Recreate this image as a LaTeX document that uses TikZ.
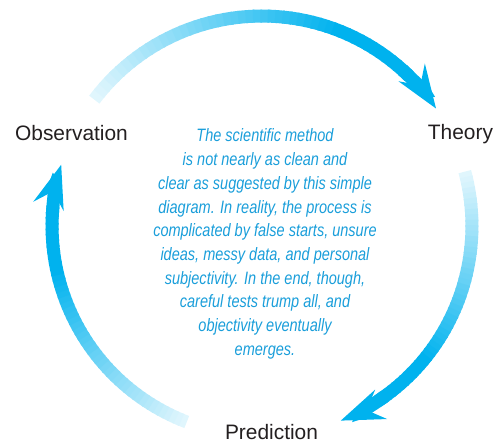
\documentclass[tikz,border=0pt]{standalone}
\usepackage{fontspec}
\setmainfont{Liberation Sans}
\newfontfamily\notefont{Liberation Sans}[FakeStretch=0.81]
\usetikzlibrary{arrows.meta,calc,positioning}
\definecolor{arccyan}{RGB}{0,178,238}
\definecolor{notecyan}{RGB}{26,158,218}
\definecolor{labelgray}{RGB}{35,31,32}
\tikzset{
        steplabel/.style = {text=labelgray, font=\fontsize{11.9}{14}\selectfont,
            inner sep=0pt, anchor=base},
        note/.style = {text=notecyan, font=\notefont\itshape\fontsize{10.2}{13.5}\selectfont,
            align=center, inner sep=0pt},
        arcbody/.style = {line width=0.26cm, line cap=butt},
        arctip/.style = {-{Stealth[length=0.86cm,width=0.62cm,inset=0.3cm]}},
    }
\newcommand{\cycrad}{4.2cm}
% #1 = light end, #2 = arrow tip (clockwise)
\newcommand{\cyclearc}[2]{%
    \pgfmathsetmacro{\bodyspan}{#1-#2-12}
    \foreach \k in {0,...,47}{
        \pgfmathsetmacro{\angfrom}{#1-\bodyspan*\k/48}
        \pgfmathsetmacro{\angto}{#1-\bodyspan*(\k+1)/48-0.5}
        \pgfmathtruncatemacro{\tone}{min(100,12+88*\k/36)}
        \draw[arcbody, draw=arccyan!\tone!white] ($(c)+(\angfrom:\cycrad)$)
            arc[start angle=\angfrom, end angle=\angto, radius=\cycrad];
    }
    \pgfmathsetmacro{\angfrom}{#2+14}
    \draw[arcbody, arctip, draw=arccyan, fill=arccyan] ($(c)+(\angfrom:\cycrad)$)
        arc[start angle=\angfrom, end angle=#2, radius=\cycrad];
}

\begin{document}
\begin{tikzpicture}[x=0.02cm, y=0.02cm]
    \useasboundingbox (0,0) rectangle (500,445);
    \coordinate (c) at (262,219);

    \node[steplabel] (obs) at ($(c)+(-190.5,85)$) {Observation};
    \node[steplabel] (theory) at ($(c)+(198.5,86)$) {Theory};
    \node[steplabel] (pred) at ($(c)+(9.5,-214)$) {Prediction};

    \node[note] (remark) at ($(c)+(3,-18)$) {The scientific method\\
        is not nearly as clean and\\
        clear as suggested by this simple\\
        diagram. In reality, the process is\\
        complicated by false starts, unsure\\
        ideas, messy data, and personal\\
        subjectivity. In the end, though,\\
        careful tests trump all, and\\
        objectivity eventually\\
        emerges.};

    % observation -> theory -> prediction -> observation
    \cyclearc{143}{34}
    \cyclearc{15}{-68}
    \cyclearc{-111}{-197}
\end{tikzpicture}
\end{document}
